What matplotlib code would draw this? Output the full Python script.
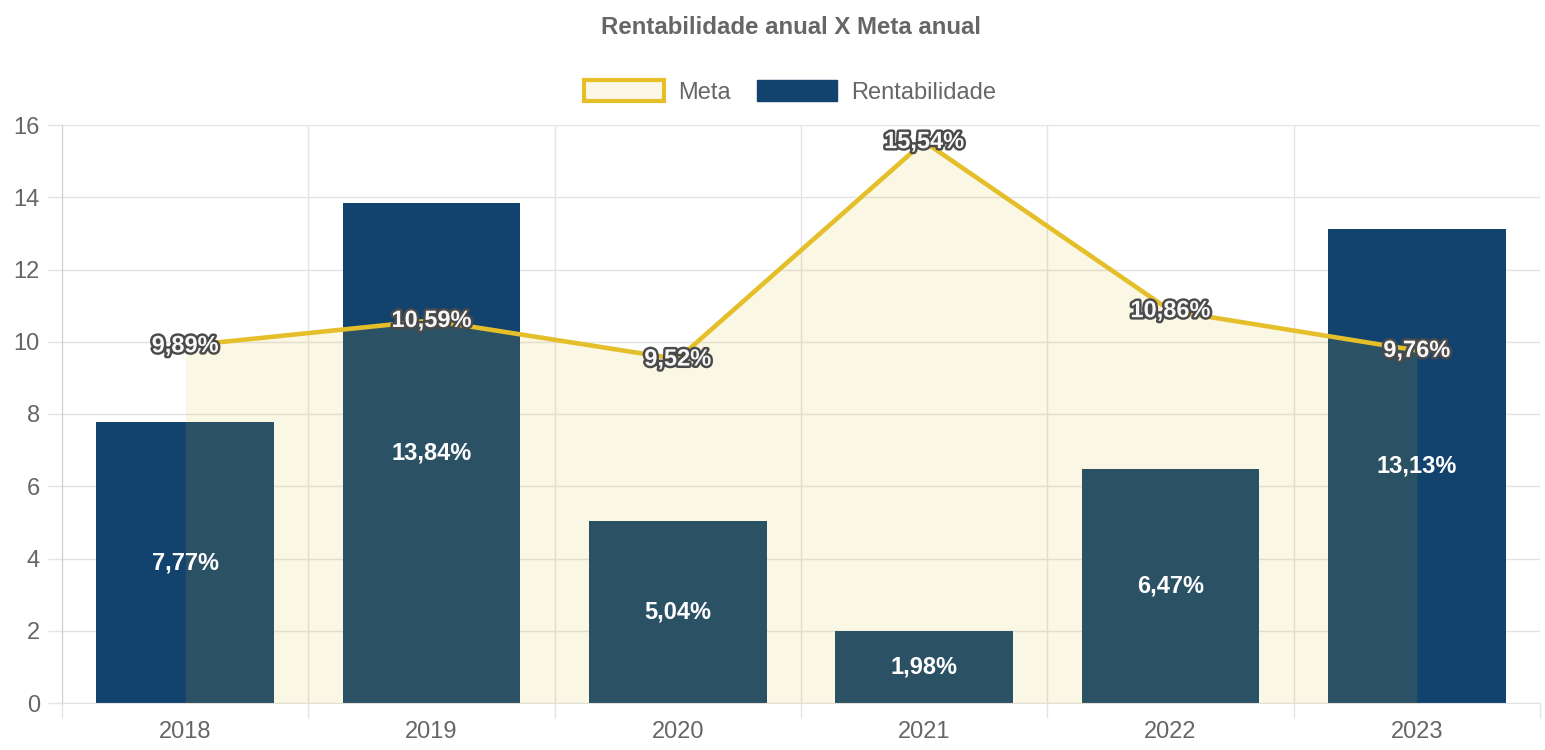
import matplotlib
matplotlib.use("Agg")
import matplotlib.pyplot as plt
import matplotlib.patheffects as pe
from matplotlib.patches import Patch
from matplotlib.ticker import FixedLocator
import numpy as np

plt.rcParams['font.family'] = ['Liberation Sans', 'DejaVu Sans']

# Data
anos = ["2018", "2019", "2020", "2021", "2022", "2023"]
rentabilidade = [7.77, 13.84, 5.04, 1.98, 6.47, 13.13]
meta = [9.89, 10.59, 9.52, 15.54, 10.86, 9.76]
y_ticks = [0, 2, 4, 6, 8, 10, 12, 14, 16]

COR_BARRA = "#12426e"
COR_META = "#e5bf2a"
COR_GRADE = "#e3e3e3"
COR_TEXTO = "#666666"


def fmt(v):
    return f"{v:.2f}".replace(".", ",") + "%"


fig = plt.figure(figsize=(15.45, 7.5), dpi=100)
ax = fig.add_axes([62 / 1545, 47 / 750, (1540 - 62) / 1545, (703 - 125) / 750])

x = np.arange(len(anos))

# Bars (Rentabilidade)
ax.bar(x, rentabilidade, width=0.72, color=COR_BARRA, zorder=2)

# Meta: translucent area + line
ax.fill_between(x, 0, meta, color=COR_META, alpha=0.12, linewidth=0, zorder=3)
ax.plot(x, meta, color=COR_META, linewidth=3.3, zorder=4, solid_joinstyle="miter")

# Labels
for xi, v in zip(x, rentabilidade):
    ax.text(xi, v / 2, fmt(v), ha="center", va="center", color="white",
            fontsize=17, fontweight="bold", zorder=6)
for xi, v in zip(x, meta):
    ax.text(xi, v, fmt(v), ha="center", va="center", color="#f8f8f8",
            fontsize=17, fontweight="bold", zorder=7,
            path_effects=[pe.withStroke(linewidth=3.5, foreground="#4a4a4a")])

# Axes styling
ax.set_xlim(-0.5, len(anos) - 0.5)
ax.set_ylim(0, 16)
ax.set_yticks(y_ticks)
ax.set_xticks(x)
ax.set_xticklabels(anos)
ax.xaxis.set_minor_locator(FixedLocator(np.arange(-0.5, len(anos), 1.0)))

ax.tick_params(axis="x", which="major", length=0, pad=13, labelsize=17, labelcolor=COR_TEXTO)
ax.tick_params(axis="x", which="minor", length=11, width=1, color=COR_GRADE)
ax.tick_params(axis="y", which="major", length=10, width=1, color=COR_GRADE,
               pad=6, labelsize=17, labelcolor=COR_TEXTO)

ax.grid(True, axis="y", which="major", color=COR_GRADE, linewidth=1, zorder=0)
ax.grid(True, axis="x", which="minor", color=COR_GRADE, linewidth=1, zorder=0)
ax.set_axisbelow(True)
for s in ["top", "right"]:
    ax.spines[s].set_visible(False)
ax.spines["left"].set_color("#d0d0d0")
ax.spines["bottom"].set_color(COR_GRADE)

# Title
fig.text(791 / 1545, 1 - 28 / 750, "Rentabilidade anual X Meta anual", ha="center", va="center",
         fontsize=17.3, fontweight="bold", color=COR_TEXTO)

# Legend
handles = [
    Patch(facecolor=(0.99, 0.97, 0.90), edgecolor=COR_META, linewidth=3, label="Meta"),
    Patch(facecolor=COR_BARRA, edgecolor=COR_BARRA, label="Rentabilidade"),
]
fig.legend(handles=handles, loc="center", bbox_to_anchor=(790 / 1545, 1 - 92 / 750),
           ncol=2, frameon=False, fontsize=17, labelcolor=COR_TEXTO,
           handlelength=3.4, handleheight=1.0, handletextpad=0.6, columnspacing=1.1)

fig.savefig("out.png", dpi=100)
